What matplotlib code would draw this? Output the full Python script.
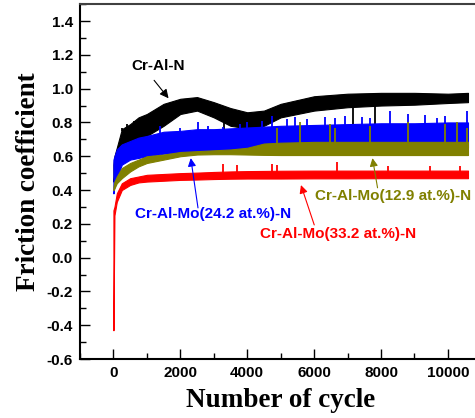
import matplotlib
matplotlib.use("Agg")
import matplotlib.pyplot as plt
import numpy as np
from matplotlib.ticker import MultipleLocator

# ---------------- data ----------------
cycles = [0, 30, 100, 250, 500, 750, 1000, 1500, 2000, 2500, 3000, 3500,
          4000, 4500, 5000, 6000, 7000, 8000, 9000, 10000, 10600]

# Cr-Al-N (black) band
crain_lo = [0.45, 0.50, 0.55, 0.63, 0.66, 0.70, 0.72, 0.78, 0.85, 0.87, 0.83, 0.78,
            0.765, 0.78, 0.83, 0.87, 0.89, 0.90, 0.905, 0.915, 0.92]
crain_hi = [0.55, 0.60, 0.65, 0.76, 0.79, 0.83, 0.85, 0.91, 0.94, 0.95, 0.92, 0.885,
            0.86, 0.87, 0.91, 0.955, 0.97, 0.975, 0.975, 0.97, 0.975]
crain_spk_c = [260, 410, 600, 900, 1190, 3300, 3800, 4300, 7160, 7820]
crain_spk_v = [0.77, 0.79, 0.81, 0.84, 0.855, 0.755, 0.76, 0.76, 0.765, 0.78]

# Cr-Al-Mo(24.2 at.%)-N (blue) band
mo24_lo = [0.38, 0.42, 0.47, 0.55, 0.58, 0.59, 0.60, 0.615, 0.62, 0.625, 0.625, 0.63,
           0.635, 0.64, 0.64, 0.645, 0.65, 0.65, 0.65, 0.65, 0.65]
mo24_hi = [0.58, 0.60, 0.64, 0.67, 0.69, 0.71, 0.72, 0.745, 0.75, 0.76, 0.76, 0.765,
           0.77, 0.775, 0.78, 0.785, 0.79, 0.795, 0.795, 0.80, 0.80]
mo24_spk_c = [1400, 2000, 2540, 2840, 3280, 3790, 4000, 4450, 4750, 5190, 5430, 5790,
              6330, 6630, 6930, 7430, 7670, 8270, 8810, 9310, 9670, 9910, 10570]
mo24_spk_v = [0.78, 0.77, 0.80, 0.78, 0.775, 0.79, 0.80, 0.81, 0.84, 0.82, 0.83, 0.82,
              0.83, 0.825, 0.84, 0.835, 0.825, 0.87, 0.85, 0.845, 0.825, 0.84, 0.87]

# Cr-Al-Mo(12.9 at.%)-N (olive) band
mo13_lo = [0.40, 0.41, 0.44, 0.47, 0.51, 0.54, 0.56, 0.58, 0.60, 0.61, 0.612, 0.612,
           0.61, 0.608, 0.607, 0.607, 0.607, 0.607, 0.607, 0.607, 0.607]
mo13_hi = [0.42, 0.45, 0.48, 0.53, 0.56, 0.58, 0.60, 0.61, 0.625, 0.63, 0.635, 0.64,
           0.65, 0.675, 0.68, 0.685, 0.685, 0.685, 0.685, 0.685, 0.685]
mo13_spk_c = [4900, 5580, 6480, 6630, 7670, 8810, 9910, 10270, 10570]
mo13_spk_v = [0.77, 0.80, 0.79, 0.77, 0.78, 0.80, 0.79, 0.80, 0.77]

# Cr-Al-Mo(33.2 at.%)-N (red) band
mo33_lo = [-0.43, 0.25, 0.33, 0.40, 0.43, 0.445, 0.45, 0.455, 0.46, 0.462, 0.465, 0.467,
           0.468, 0.468, 0.468, 0.469, 0.469, 0.47, 0.47, 0.47, 0.47]
mo33_hi = [0.28, 0.30, 0.38, 0.44, 0.47, 0.48, 0.49, 0.495, 0.50, 0.503, 0.507, 0.51,
           0.512, 0.513, 0.514, 0.515, 0.515, 0.515, 0.515, 0.515, 0.515]
mo33_spk_c = [3290, 3700, 4750, 4900, 6690, 8210, 9460, 10360]
mo33_spk_v = [0.555, 0.55, 0.555, 0.55, 0.565, 0.545, 0.545, 0.545]

xticks = [0, 2000, 4000, 6000, 8000, 10000]
yticks = [-0.6, -0.4, -0.2, 0.0, 0.2, 0.4, 0.6, 0.8, 1.0, 1.2, 1.4]

# ---------------- figure ----------------
SANS = "Liberation Sans"
SERIF = "Liberation Serif"

fig = plt.figure(figsize=(4.75, 4.18), dpi=100)
ax = fig.add_axes([0.1684, 0.1411, 0.845, 0.849])

series = [
    (crain_lo, crain_hi, crain_spk_c, crain_spk_v, "#000000", 1),
    (mo24_lo, mo24_hi, mo24_spk_c, mo24_spk_v, "#0000ff", 2),
    (mo13_lo, mo13_hi, mo13_spk_c, mo13_spk_v, "#808000", 3),
    (mo33_lo, mo33_hi, mo33_spk_c, mo33_spk_v, "#ff0000", 4),
]
cyc = np.array(cycles, dtype=float)
for lo, hi, sc, sv, col, z in series:
    ax.fill_between(cyc, lo, hi, color=col, lw=0.8, edgecolor=col, zorder=z)
    lo_a = np.array(lo); hi_a = np.array(hi)
    sv_a = np.array(sv); sc_a = np.array(sc, dtype=float)
    base_hi = np.interp(sc_a, cyc, hi_a)
    base_lo = np.interp(sc_a, cyc, lo_a)
    base = np.where(sv_a >= base_hi, base_hi - 0.01, base_lo + 0.01)
    ax.vlines(sc_a, base, sv_a, colors=col, lw=1.3, zorder=z)

# annotations
ax.text(1343, 1.133, "Cr-Al-N", color="black", fontsize=11, fontweight="bold",
        family=SANS, ha="center", va="center")
ax.annotate("", xy=(1700, 0.93), xytext=(1164, 1.062),
            arrowprops=dict(arrowstyle="-|>", color="black", lw=0.8, mutation_scale=13),
            zorder=6)

ax.text(2985, 0.26, "Cr-Al-Mo(24.2 at.%)-N", color="#0000ff", fontsize=11,
        fontweight="bold", family=SANS, ha="center", va="center")
ax.annotate("", xy=(2300, 0.605), xytext=(2540, 0.278),
            arrowprops=dict(arrowstyle="-|>", color="#0000ff", lw=0.8, mutation_scale=12),
            zorder=6)

ax.text(8358, 0.367, "Cr-Al-Mo(12.9 at.%)-N", color="#808000", fontsize=11,
        fontweight="bold", family=SANS, ha="center", va="center")
ax.annotate("", xy=(7730, 0.605), xytext=(7910, 0.397),
            arrowprops=dict(arrowstyle="-|>", color="#808000", lw=0.8, mutation_scale=12),
            zorder=6)

ax.text(6716, 0.142, "Cr-Al-Mo(33.2 at.%)-N", color="#ff0000", fontsize=11,
        fontweight="bold", family=SANS, ha="center", va="center")
ax.annotate("", xy=(5580, 0.445), xytext=(6030, 0.178),
            arrowprops=dict(arrowstyle="-|>", color="#ff0000", lw=0.8, mutation_scale=12),
            zorder=6)

# axes styling
ax.set_xlim(-1000, 11000)
ax.set_ylim(-0.6, 1.5)
ax.set_xticks(xticks)
ax.set_yticks(yticks)
ax.set_xticklabels([str(t) for t in xticks])
ax.set_yticklabels(["%.1f" % t for t in yticks])
ax.xaxis.set_minor_locator(MultipleLocator(1000))
ax.yaxis.set_minor_locator(MultipleLocator(0.1))
ax.tick_params(which="major", direction="in", length=7, width=1.0,
               top=False, right=False, pad=5)
ax.tick_params(which="minor", direction="in", length=4, width=1.0,
               top=False, right=False)
for lab in ax.get_xticklabels() + ax.get_yticklabels():
    lab.set_fontfamily(SANS)
    lab.set_fontweight("bold")
    lab.set_fontsize(11)
for sp in ax.spines.values():
    sp.set_linewidth(1.5)
ax.spines["top"].set_color("#404040")

ax.set_xlabel("Number of cycle", family=SERIF, fontweight="bold", fontsize=19.5,
              labelpad=6)
ax.set_ylabel("Friction coefficient", family=SERIF, fontweight="bold", fontsize=19.5,
              labelpad=4)

fig.savefig("out.png", dpi=100)
